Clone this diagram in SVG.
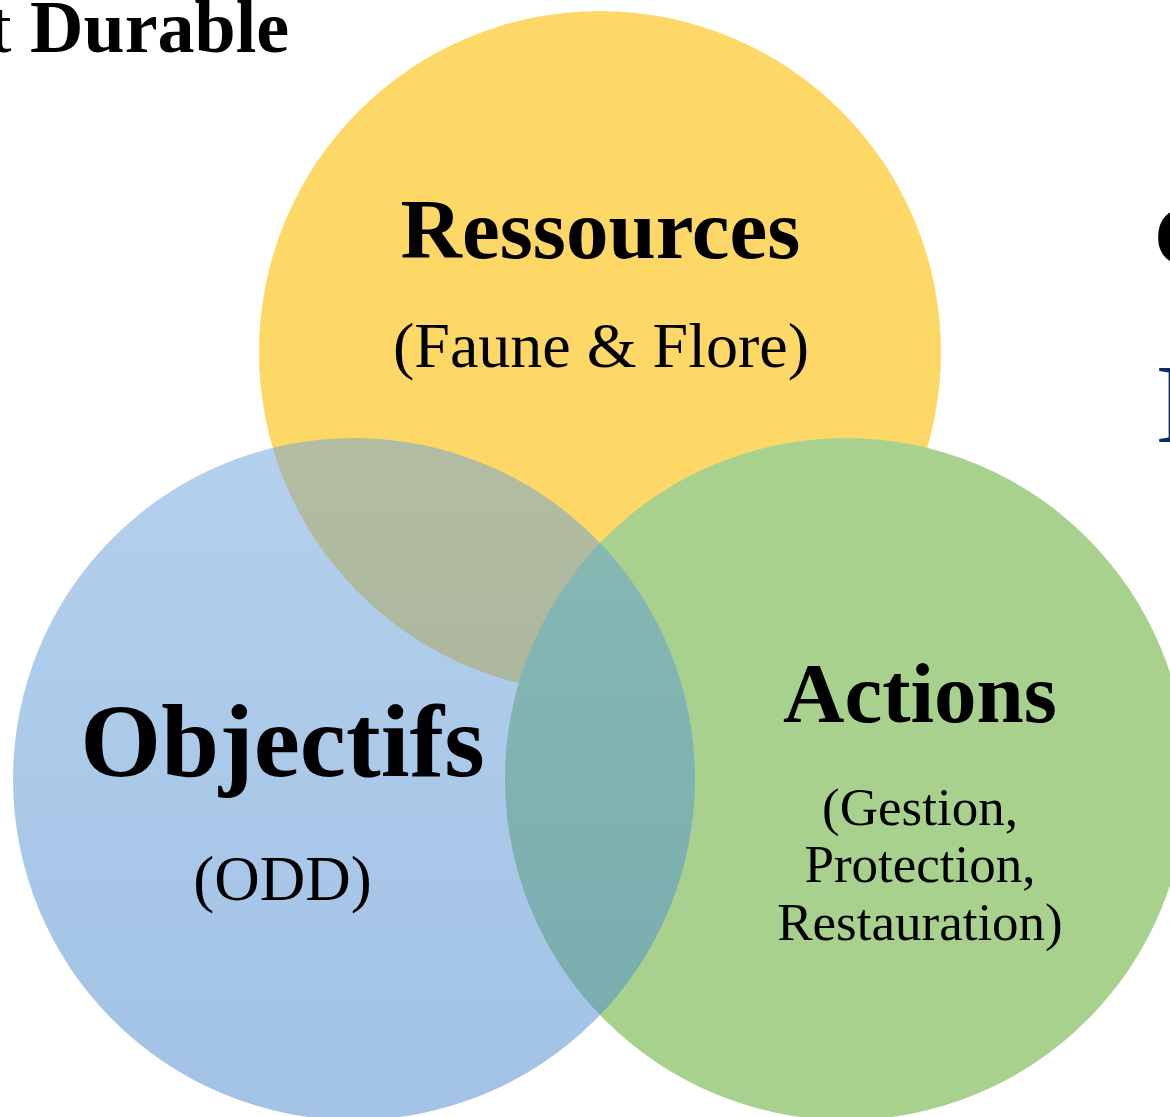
<svg xmlns="http://www.w3.org/2000/svg" width="1170" height="1117" viewBox="0 0 1170 1117">
  <defs>
    <linearGradient id="blueFill" x1="0" y1="0" x2="0" y2="1">
      <stop offset="0" stop-color="#68A2DA"/>
      <stop offset="1" stop-color="#4586CD"/>
    </linearGradient>
  </defs>
  <style>
    text { font-family: "Liberation Serif", "Times New Roman", serif; fill: #000; text-anchor: middle; }
    .title { font-weight: bold; }
    .sub { font-weight: normal; }
  </style>
  <rect width="1170" height="1117" fill="#ffffff"/>

  <!-- page heading fragments -->
  <text x="-9" y="52" style="text-anchor:start;font-size:74px"><tspan>t </tspan><tspan font-weight="bold">Durable</tspan></text>
  <text x="1154" y="265" class="title" style="text-anchor:start;font-size:84px">C</text>
  <text x="1156" y="442" style="text-anchor:start;font-size:112px;fill:#0E2A69">D</text>

  <!-- Ressources -->
  <g id="ressources">
    <circle cx="600" cy="352" r="341" fill="#FED867"/>
    <text x="600.5" y="258" class="title" style="font-size:85px">Ressources</text>
    <text x="601" y="367" class="sub" style="font-size:64px">(Faune &amp; Flore)</text>
  </g>

  <!-- Actions -->
  <g id="actions">
    <circle cx="846" cy="779" r="341" fill="#A9D18E"/>
  </g>

  <!-- Objectifs (translucent, drawn over the others) -->
  <g id="objectifs">
    <circle cx="354" cy="779" r="341" fill="url(#blueFill)" fill-opacity="0.5"/>
    <text x="282.5" y="776" class="title" style="font-size:104px">Objectifs</text>
    <text x="282.5" y="900" class="sub" style="font-size:63px">(ODD)</text>
  </g>

  <!-- Actions labels -->
  <g id="actions-labels">
    <text x="920" y="722" class="title" style="font-size:85px">Actions</text>
    <text x="920" y="825" class="sub" style="font-size:53px">(Gestion,</text>
    <text x="920" y="882" class="sub" style="font-size:53px">Protection,</text>
    <text x="920" y="940" class="sub" style="font-size:53px">Restauration)</text>
  </g>

  <!-- no connectors in this diagram -->
  <g id="connectors"/>
</svg>
